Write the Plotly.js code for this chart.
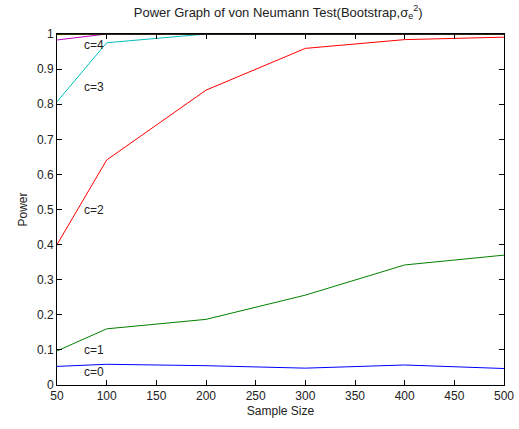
<!DOCTYPE html>
<html>
<head>
<meta charset="utf-8">
<script src="https://cdn.plot.ly/plotly-3.0.1.min.js"></script>
<style>html,body{margin:0;padding:0;background:#fff;}#chart{width:519px;height:429px;}</style>
</head>
<body>
<div id="chart"></div>
<script>
var sampleSizes = [50, 100, 200, 300, 400, 500];
var power_c0 = [0.053, 0.059, 0.055, 0.048, 0.057, 0.047];
var power_c1 = [0.097, 0.160, 0.187, 0.256, 0.342, 0.370];
var power_c2 = [0.400, 0.641, 0.840, 0.959, 0.984, 0.991];
var power_c3 = [0.807, 0.975, 1.000, 1.000, 1.000, 1.000];
var power_c4 = [0.983, 1.000, 1.000, 1.000, 1.000, 1.000];
var power_c5 = [0.998, 1.000, 1.000, 1.000, 1.000, 1.000];
var seriesNames = ["c=0", "c=1", "c=2", "c=3", "c=4", "c=5"];
var seriesColors = ["#0000FF", "#008000", "#FF0000", "#00BFBF", "#BF00BF", "#BFBF00"];
var labelText = ["c=0", "c=1", "c=2", "c=3", "c=4"];
var labelX = [75, 75, 75, 75, 75];
var labelY = [0.037, 0.10, 0.50, 0.85, 0.97];
var xTicks = [50, 100, 150, 200, 250, 300, 350, 400, 450, 500];
var yTicks = [0, 0.1, 0.2, 0.3, 0.4, 0.5, 0.6, 0.7, 0.8, 0.9, 1];

var FONT = 'Liberation Sans, Arial, sans-serif';
var allSeries = [power_c0, power_c1, power_c2, power_c3, power_c4, power_c5];
var traces = allSeries.map(function (ys, i) {
  return {
    x: sampleSizes, y: ys, type: 'scatter', mode: 'lines',
    name: seriesNames[i], line: {color: seriesColors[i], width: 1},
    hoverinfo: 'none'
  };
});

var annotations = labelText.map(function (t, i) {
  return {x: labelX[i], y: labelY[i], xref: 'x', yref: 'y', text: t,
    showarrow: false, xanchor: 'left', yanchor: 'middle',
    font: {family: FONT, size: 12, color: '#222'}};
});

var axisCommon = {
  showline: true, linecolor: '#000', linewidth: 1, mirror: 'ticks',
  ticks: 'inside', ticklen: 5, tickcolor: '#000', showgrid: false, zeroline: false,
  tickfont: {family: FONT, size: 12, color: '#222'}
};

var layout = {
  width: 519, height: 429,
  margin: {l: 57, r: 15, t: 34, b: 44},
  paper_bgcolor: '#fff', plot_bgcolor: '#fff',
  showlegend: false,
  font: {family: FONT, size: 12, color: '#222'},
  title: {text: 'Power Graph of von Neumann Test(Bootstrap,σ<sub>e</sub><sup>2</sup>)',
    x: 0.536, xanchor: 'center', y: 0.972, yanchor: 'middle',
    font: {family: FONT, size: 13, color: '#222'}},
  xaxis: Object.assign({}, axisCommon, {
    range: [50, 500], tickvals: xTicks, ticktext: xTicks.map(String),
    title: {text: 'Sample Size', standoff: 4, font: {family: FONT, size: 12, color: '#222'}}
  }),
  yaxis: Object.assign({}, axisCommon, {
    range: [0, 1], tickvals: yTicks, ticktext: yTicks.map(String),
    title: {text: 'Power', standoff: 6, font: {family: FONT, size: 12, color: '#222'}}
  }),
  shapes: [{type: 'line', xref: 'paper', yref: 'paper', x0: 0, x1: 1, y0: 1, y1: 1,
    layer: 'above', line: {color: '#000', width: 1.5}}],
  annotations: annotations
};

Plotly.newPlot('chart', traces, layout, {staticPlot: true, displayModeBar: false});
</script>
</body>
</html>
